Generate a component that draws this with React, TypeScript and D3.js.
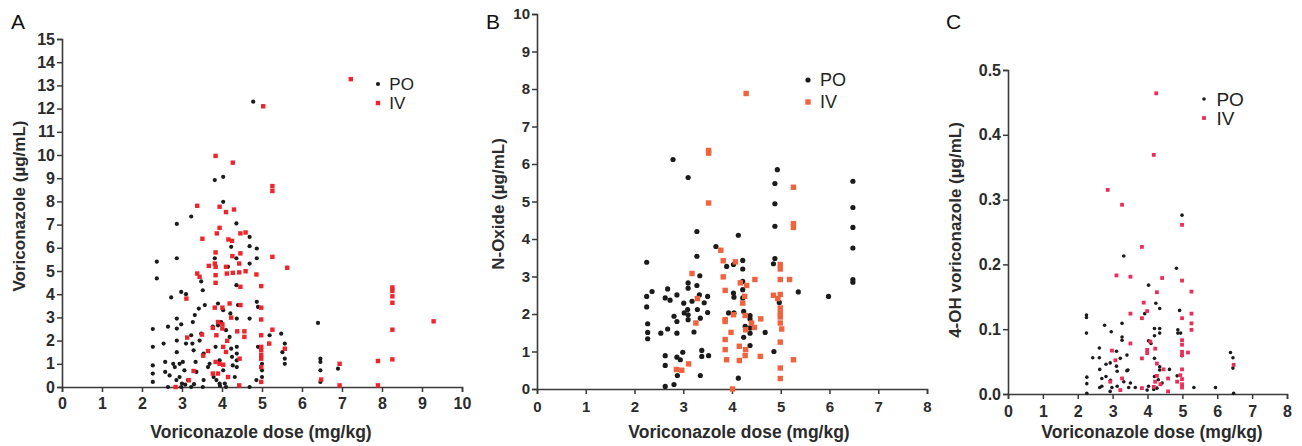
import { useEffect, useRef } from 'react'
import * as d3 from 'd3'

type Pt = [number, number]

// Panel A: voriconazole trough vs dose
const voriPO: Pt[] = [
  [2.27, 0.22], [2.27, 0.58], [2.27, 0.93], [2.27, 1.73], [2.27, 2.5], [2.37, 4.68], [2.37, 5.4],
  [2.54, 1.87], [2.58, 1.08], [2.58, 0.65], [2.65, 2.6], [2.69, 0.5], [2.73, 3.86], [2.78, 1.0],
  [2.82, 0.86], [2.86, 0.3], [2.87, 5.55], [2.87, 7.03], [2.87, 2.95], [2.87, 2.52], [2.87, 2.0],
  [2.87, 1.5], [2.94, 1.0], [2.94, 0.43], [2.98, 2.7], [2.98, 4.1], [3.0, 0.15], [3.02, 1.08],
  [3.06, 0.72], [3.1, 4.0], [3.1, 1.87], [3.15, 0.3], [3.23, 7.35], [3.23, 2.23], [3.26, 1.87],
  [3.27, 2.8], [3.29, 1.58], [3.32, 3.1], [3.34, 1.08], [3.36, 0.65], [3.42, 3.38], [3.44, 2.0],
  [3.48, 2.3], [3.48, 4.55], [3.52, 4.17], [3.54, 1.44], [3.54, 0.3], [3.57, 3.53], [3.65, 0.86],
  [3.69, 1.0], [3.77, 2.6], [3.79, 0.43], [3.82, 8.92], [3.82, 5.55], [3.84, 1.73], [3.86, 0.3],
  [3.9, 3.6], [3.9, 2.66], [3.94, 1.15], [3.94, 0.15], [3.98, 2.8], [4.03, 9.06], [4.03, 7.98],
  [4.03, 3.31], [4.03, 0.72], [4.07, 0.15], [4.1, 2.45], [4.15, 5.18], [4.19, 2.16], [4.21, 3.17],
  [4.23, 6.04], [4.23, 1.65], [4.25, 1.3], [4.27, 0.93], [4.32, 0.43], [4.36, 5.55], [4.36, 7.05],
  [4.36, 4.39], [4.37, 2.95], [4.37, 1.73], [4.37, 1.44], [4.37, 1.15], [4.37, 0.86], [4.4, 3.53],
  [4.69, 6.47], [4.69, 6.07], [4.69, 5.32], [4.69, 2.95], [4.69, 0.0], [4.78, 12.3], [4.86, 0.3],
  [4.87, 5.97], [4.87, 5.55], [4.87, 3.67], [4.9, 3.45], [4.9, 1.73], [5.0, 1.0], [5.0, 0.72],
  [5.0, 0.43], [5.19, 2.23], [5.48, 2.3], [5.51, 1.5], [5.57, 1.87], [5.57, 1.22], [5.57, 1.0],
  [6.4, 2.76], [6.46, 1.22], [6.46, 1.08], [6.46, 0.72], [6.46, 0.22], [6.9, 0.79], [2.65, 0.0],
  [2.98, 0.0], [3.23, 0.0], [3.52, 0.0], [4.1, 0.0], [3.08, 0.1], [3.3, 0.12], [3.95, 0.05],
]
const voriIV: Pt[] = [
  [7.22, 13.27], [5.03, 12.1], [3.84, 9.96], [4.27, 9.67], [5.26, 8.66], [5.26, 8.45], [3.38, 7.81],
  [3.94, 7.77], [4.1, 7.54], [4.3, 7.65], [3.94, 6.86], [3.87, 6.62], [3.51, 6.39], [4.16, 6.36],
  [4.25, 6.3], [4.46, 6.62], [4.59, 6.66], [3.84, 5.8], [4.26, 5.64], [4.46, 5.76], [5.26, 5.61],
  [3.67, 5.22], [3.82, 5.32], [3.84, 5.18], [4.1, 5.18], [4.43, 5.32], [5.63, 5.14], [3.38, 4.89],
  [3.44, 4.75], [3.84, 4.82], [4.12, 4.89], [4.27, 4.92], [4.59, 4.99], [4.43, 4.94], [4.86, 4.85],
  [3.84, 4.49], [4.46, 4.32], [4.98, 4.35], [3.11, 3.81], [3.82, 3.42], [4.01, 3.42], [4.19, 3.6],
  [4.46, 3.53], [4.98, 3.42], [4.23, 2.99], [4.98, 2.91], [3.9, 2.8], [4.01, 2.7], [3.77, 2.55],
  [4.01, 2.52], [5.26, 2.47], [4.38, 2.4], [4.56, 2.4], [3.5, 2.26], [3.86, 2.23], [4.98, 2.23],
  [4.56, 2.16], [3.13, 2.13], [4.13, 1.99], [5.18, 1.87], [4.03, 1.73], [4.98, 1.73], [4.98, 1.58],
  [5.57, 1.65], [3.65, 1.55], [4.1, 1.51], [3.53, 1.35], [4.98, 1.37], [4.98, 1.22], [4.44, 1.22],
  [3.84, 1.08], [3.94, 1.0], [4.03, 0.96], [4.98, 0.86], [3.29, 0.69], [3.9, 0.58], [3.77, 0.58],
  [4.15, 0.43], [3.17, 0.29], [4.43, 0.07], [4.98, 0.22], [6.48, 0.32], [6.94, 1.0], [6.94, 0.07],
  [7.9, 1.12], [7.9, 0.07], [8.26, 4.29], [8.26, 4.14], [8.26, 3.91], [8.26, 3.63], [8.26, 2.47],
  [8.26, 1.19], [9.29, 2.83], [2.84, 0.0],
]

// Panel B: N-oxide vs dose
const noxPO: Pt[] = [
  [2.25, 3.38], [2.25, 2.47], [2.25, 2.19], [2.27, 1.74], [2.27, 1.51], [2.27, 1.34], [2.36, 2.6],
  [2.54, 1.49], [2.63, 2.43], [2.63, 0.89], [2.63, 0.63], [2.63, 0.07], [2.68, 2.67], [2.68, 1.6],
  [2.73, 2.37], [2.79, 6.12], [2.81, 0.12], [2.81, 1.94], [2.87, 2.51], [2.87, 1.8], [2.87, 1.49],
  [2.87, 0.85], [2.88, 0.36], [2.94, 0.78], [2.99, 0.98], [3.01, 2.29], [3.02, 2.03], [3.09, 2.12],
  [3.1, 5.64], [3.1, 2.83], [3.1, 2.69], [3.1, 1.98], [3.1, 1.85], [3.18, 2.34], [3.22, 1.52],
  [3.28, 4.2], [3.28, 3.54], [3.28, 2.76], [3.29, 2.12], [3.34, 3.02], [3.33, 2.51], [3.35, 1.89],
  [3.35, 0.36], [3.38, 1.03], [3.38, 0.87], [3.43, 2.3], [3.5, 2.47], [3.5, 2.04], [3.52, 0.89],
  [3.67, 3.8], [3.89, 3.27], [3.93, 2.03], [4.03, 3.32], [4.03, 2.56], [4.04, 2.45], [4.04, 2.03],
  [4.13, 4.1], [4.13, 0.29], [4.22, 3.43], [4.22, 3.2], [4.22, 2.87], [4.22, 2.65], [4.22, 2.43],
  [4.24, 2.07], [4.24, 1.38], [4.27, 1.67], [4.37, 1.96], [4.37, 1.87], [4.37, 1.63], [4.37, 1.49],
  [4.37, 1.16], [4.68, 1.51], [4.85, 3.34], [4.88, 3.48], [4.86, 1.0], [4.88, 4.34], [4.88, 4.94],
  [4.88, 5.48], [4.93, 5.85], [4.97, 2.31], [5.36, 2.59], [5.98, 2.47], [6.48, 5.54], [6.48, 4.84],
  [6.48, 4.31], [6.48, 3.76], [6.48, 2.92], [6.48, 2.85],
]
const noxIV: Pt[] = [
  [4.29, 7.88], [3.52, 6.36], [3.52, 6.29], [3.52, 4.96], [5.26, 5.38], [5.26, 4.41], [5.26, 4.31],
  [3.77, 3.7], [3.82, 3.42], [4.07, 3.39], [4.99, 3.32], [4.99, 3.2], [3.18, 3.08], [3.82, 2.99],
  [4.99, 2.92], [5.18, 2.92], [4.47, 2.92], [4.17, 2.83], [4.3, 2.76], [3.86, 2.63], [3.29, 2.41],
  [4.26, 2.47], [4.85, 2.5], [4.99, 2.52], [4.94, 2.41], [4.22, 2.29], [4.99, 2.16], [4.99, 2.03],
  [4.27, 1.96], [4.99, 1.92], [4.03, 1.98], [3.86, 1.85], [4.59, 1.87], [3.86, 1.8], [4.99, 1.76],
  [3.26, 1.76], [4.4, 1.76], [4.46, 1.64], [4.28, 1.58], [5.02, 1.6], [3.98, 1.51], [3.86, 1.32],
  [4.99, 1.25], [4.15, 1.14], [3.86, 1.05], [4.28, 1.05], [4.27, 0.89], [4.58, 0.87], [3.89, 0.78],
  [4.15, 0.76], [5.26, 0.78], [3.11, 0.67], [2.86, 0.52], [2.97, 0.5], [4.99, 0.56], [4.99, 0.28],
  [4.01, 0.0],
]

// Panel C: 4-OH voriconazole vs dose
const ohPO: Pt[] = [
  [4.99, 0.276], [3.32, 0.213], [4.83, 0.194], [4.03, 0.168], [4.24, 0.14], [4.35, 0.132],
  [4.92, 0.129], [3.92, 0.124], [2.25, 0.122], [2.25, 0.118], [2.25, 0.094], [2.77, 0.106],
  [3.27, 0.109], [2.96, 0.096], [3.27, 0.088], [3.27, 0.083], [4.2, 0.101], [4.35, 0.101],
  [4.35, 0.094], [4.87, 0.099], [4.87, 0.094], [4.95, 0.094], [4.2, 0.09], [4.03, 0.082],
  [4.1, 0.078], [2.62, 0.071], [3.11, 0.066], [6.38, 0.064], [3.41, 0.06], [4.99, 0.059],
  [2.43, 0.056], [2.62, 0.056], [3.22, 0.055], [4.2, 0.055], [6.45, 0.056], [2.93, 0.048],
  [2.81, 0.046], [6.45, 0.04], [4.35, 0.042], [4.35, 0.037], [3.11, 0.043], [2.63, 0.038],
  [3.44, 0.037], [4.63, 0.038], [3.13, 0.035], [3.41, 0.036], [2.81, 0.027], [2.26, 0.026],
  [2.69, 0.024], [4.2, 0.027], [4.85, 0.028], [2.26, 0.016], [2.94, 0.021], [3.32, 0.019],
  [3.51, 0.017], [4.31, 0.022], [4.42, 0.017], [2.69, 0.012], [2.63, 0.01], [2.98, 0.01],
  [3.13, 0.012], [3.65, 0.01], [3.46, 0.01], [4.03, 0.012], [4.18, 0.007], [4.27, 0.009],
  [5.33, 0.01], [5.95, 0.01], [2.26, 0.001], [6.47, 0.001], [2.93, 0.004], [3.99, 0.006],
]
const ohIV: Pt[] = [
  [4.25, 0.464], [4.18, 0.369], [2.86, 0.315], [3.27, 0.292], [3.84, 0.227], [4.99, 0.261],
  [3.11, 0.183], [3.51, 0.181], [4.42, 0.179], [4.99, 0.175], [4.27, 0.157], [5.26, 0.158],
  [3.89, 0.141], [3.99, 0.128], [3.51, 0.124], [5.26, 0.124], [3.84, 0.117], [4.99, 0.117],
  [5.26, 0.109], [5.26, 0.099], [4.99, 0.083], [3.51, 0.078], [4.08, 0.081], [4.99, 0.076],
  [4.22, 0.07], [3.99, 0.068], [2.98, 0.067], [4.99, 0.065], [5.16, 0.064], [3.99, 0.063],
  [4.99, 0.06], [3.84, 0.055], [3.08, 0.052], [4.27, 0.047], [6.47, 0.045], [4.46, 0.038],
  [4.99, 0.038], [3.27, 0.024], [4.59, 0.024], [4.94, 0.029], [4.99, 0.023], [4.27, 0.028],
  [2.93, 0.019], [4.22, 0.019], [4.85, 0.019], [4.37, 0.015], [4.99, 0.015], [4.99, 0.01],
  [3.84, 0.009], [3.22, 0.006], [4.59, 0.004], [4.18, 0.011],
]

const ticksA_x = d3.range(0, 11)
const ticksA_y = d3.range(0, 16)
const ticksB_x = d3.range(0, 9)
const ticksB_y = d3.range(0, 11)
const ticksC_x = d3.range(0, 9)
const ticksC_y = [0, 0.1, 0.2, 0.3, 0.4, 0.5]

const legendLabels = ['PO', 'IV']

type PanelCfg = {
  letter: string
  letterX: number
  po: Pt[]
  iv: Pt[]
  ivColor: string
  xDomain: [number, number]
  yDomain: [number, number]
  xTicks: number[]
  yTicks: number[]
  yFormat: (d: number) => string
  left: number
  right: number
  top: number
  bottom: number
  dotR: number
  sq: number
  yTitle: string
  yTitleX: number
  yTitleY: number
  xTitleX: number
  xTickPad: number
  tickFont: number
  legendX: number
  legendY: number
  legendFont: number
  legendGap: number
}

const font = 'Arial, "Liberation Sans", Helvetica, sans-serif'

const panels: PanelCfg[] = [
  {
    letter: 'A', letterX: 11, po: voriPO, iv: voriIV, ivColor: '#f0242b',
    xDomain: [0, 10], yDomain: [0, 15], xTicks: ticksA_x, yTicks: ticksA_y, yFormat: (d) => String(d),
    left: 62, right: 462, top: 39, bottom: 387, dotR: 2.1, sq: 4.4,
    yTitle: 'Voriconazole (µg/mL)', yTitleX: 19, yTitleY: 206, xTitleX: 261, xTickPad: 6, tickFont: 16,
    legendX: 378, legendY: 84, legendFont: 17, legendGap: 19,
  },
  {
    letter: 'B', letterX: 486, po: noxPO, iv: noxIV, ivColor: '#f1633f',
    xDomain: [0, 8], yDomain: [0, 10], xTicks: ticksB_x, yTicks: ticksB_y, yFormat: (d) => String(d),
    left: 537, right: 927, top: 14, bottom: 389, dotR: 2.6, sq: 5.4,
    yTitle: 'N-Oxide (µg/mL)', yTitleX: 498, yTitleY: 204, xTitleX: 739, xTickPad: 7, tickFont: 15,
    legendX: 808, legendY: 80, legendFont: 18, legendGap: 22,
  },
  {
    letter: 'C', letterX: 946, po: ohPO, iv: ohIV, ivColor: '#ee2c58',
    xDomain: [0, 8], yDomain: [0, 0.5], xTicks: ticksC_x, yTicks: ticksC_y, yFormat: d3.format('.1f'),
    left: 1008, right: 1287, top: 70, bottom: 394, dotR: 1.8, sq: 3.8,
    yTitle: '4-OH voriconazole (µg/mL)', yTitleX: 955, yTitleY: 230, xTitleX: 1152, xTickPad: 7, tickFont: 16,
    legendX: 1204, legendY: 99, legendFont: 19, legendGap: 19,
  },
]

const drawPanel = (svg: d3.Selection<SVGSVGElement, unknown, null, undefined>, p: PanelCfg) => {
  const x = d3.scaleLinear().domain(p.xDomain).range([p.left, p.right])
  const y = d3.scaleLinear().domain(p.yDomain).range([p.bottom, p.top])
  const g = svg.append('g')

  // eixos
  const xAxis = g
    .append('g')
    .attr('transform', `translate(0,${p.bottom})`)
    .call(d3.axisBottom(x).tickValues(p.xTicks).tickSize(5).tickPadding(p.xTickPad).tickFormat((d) => String(d)))
  const yAxis = g
    .append('g')
    .attr('transform', `translate(${p.left},0)`)
    .call(d3.axisLeft(y).tickValues(p.yTicks).tickSize(5).tickPadding(2).tickFormat((d) => p.yFormat(+d)))
  for (const ax of [xAxis, yAxis]) {
    ax.selectAll('.domain').attr('stroke', '#3a3a3a').attr('stroke-width', 1.6)
    ax.selectAll('.tick line').attr('stroke', '#3a3a3a').attr('stroke-width', 1.5)
    ax.selectAll('.tick text')
      .attr('fill', '#2b2b2b')
      .attr('font-family', font)
      .attr('font-weight', 'bold')
      .attr('font-size', p.tickFont)
  }

  // pontos
  g.append('g')
    .selectAll('circle')
    .data(p.po)
    .join('circle')
    .attr('cx', (d) => x(d[0]))
    .attr('cy', (d) => y(d[1]))
    .attr('r', p.dotR)
    .attr('fill', '#1b1b1b')
  g.append('g')
    .selectAll('rect')
    .data(p.iv)
    .join('rect')
    .attr('x', (d) => x(d[0]) - p.sq / 2)
    .attr('y', (d) => y(d[1]) - p.sq / 2)
    .attr('width', p.sq)
    .attr('height', p.sq)
    .attr('fill', p.ivColor)

  // títulos
  g.append('text')
    .attr('x', p.letterX)
    .attr('y', 29)
    .attr('font-family', font)
    .attr('font-size', 21)
    .attr('fill', '#111')
    .text(p.letter)
  g.append('text')
    .attr('transform', `translate(${p.yTitleX},${p.yTitleY}) rotate(-90)`)
    .attr('text-anchor', 'middle')
    .attr('dominant-baseline', 'central')
    .attr('font-family', font)
    .attr('font-weight', 'bold')
    .attr('font-size', 17)
    .attr('fill', '#2b2b2b')
    .text(p.yTitle)
  g.append('text')
    .attr('x', p.xTitleX)
    .attr('y', 438)
    .attr('text-anchor', 'middle')
    .attr('font-family', font)
    .attr('font-weight', 'bold')
    .attr('font-size', 17.5)
    .attr('fill', '#2b2b2b')
    .text('Voriconazole dose (mg/kg)')

  // legenda
  const lg = g.append('g').attr('transform', `translate(${p.legendX},${p.legendY})`)
  lg.append('circle').attr('cx', 0).attr('cy', 0).attr('r', p.dotR).attr('fill', '#1b1b1b')
  lg.append('rect')
    .attr('x', -p.sq / 2)
    .attr('y', p.legendGap - p.sq / 2)
    .attr('width', p.sq)
    .attr('height', p.sq)
    .attr('fill', p.ivColor)
  legendLabels.forEach((label, i) => {
    lg.append('text')
      .attr('x', p.legendFont * 0.55 + 2)
      .attr('y', i * p.legendGap)
      .attr('dominant-baseline', 'central')
      .attr('font-family', font)
      .attr('font-size', p.legendFont)
      .attr('fill', '#222')
      .text(label)
  })
}

const App = () => {
  const ref = useRef<SVGSVGElement>(null)

  useEffect(() => {
    document.body.style.margin = '0'
    if (!ref.current) return
    const svg = d3.select(ref.current)
    svg.selectAll('*').remove()
    panels.forEach((p) => drawPanel(svg, p))
  }, [])

  return <svg ref={ref} width={1302} height={446} style={{ display: 'block', background: '#fff' }} />
}

export default App
